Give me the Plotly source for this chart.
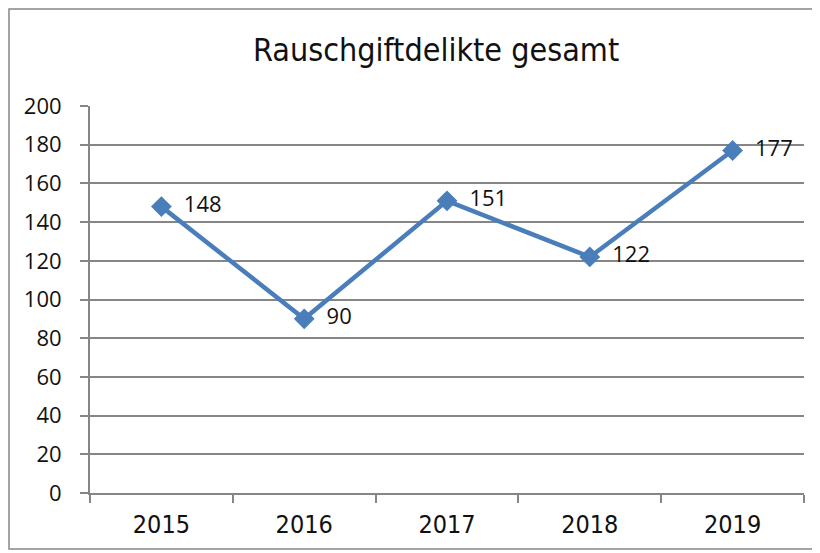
import plotly.graph_objects as go

years = ["2015", "2016", "2017", "2018", "2019"]
values = [148, 90, 151, 122, 177]
labels = ["148", "90", "151", "122", "177"]
title_text = "Rauschgiftdelikte gesamt"

OFF = 8  # page body margin
W, H = 820 - OFF, 553 - OFF
L, T = 90 - OFF, 106 - OFF
R = W - (804 - OFF)
B = H - (493 - OFF)
pw, ph = W - L - R, H - T - B

def fx(p):  # figure pixel -> paper x
    return (p - L) / pw

def fy(p):  # figure pixel -> paper y
    return (H - B - p) / ph

NARROW = "DejaVu Sans Condensed, Liberation Sans Narrow, sans-serif"
TICKF = "Open Sans, sans-serif"

fig = go.Figure()
fig.add_trace(go.Scatter(
    x=years, y=values, mode="lines+markers+text",
    line=dict(color="#4A7EBB", width=4.5),
    marker=dict(symbol="diamond", size=16, color="#4A7EBB"),
    text=["  " + t for t in labels], textposition="middle right",
    textfont=dict(family=TICKF, size=22, color="#111111"),
    cliponaxis=False, showlegend=False,
))

fig.update_layout(
    width=W, height=H,
    margin=dict(l=L, r=R, t=T, b=B, pad=0),
    paper_bgcolor="white", plot_bgcolor="white",
    font=dict(family=TICKF, color="#111111"),
    xaxis=dict(
        type="category", tickson="boundaries", ticks="outside", ticklen=8,
        tickcolor="#868686", tickwidth=1.5, showgrid=False,
        showline=True, linecolor="#868686", linewidth=2,
        tickfont=dict(family=NARROW, size=25, color="#111111"),
        ticklabelstandoff=8,
        range=[-0.5, 4.5], fixedrange=True,
    ),
    yaxis=dict(
        range=[0, 200], dtick=20, tick0=0, ticks="outside", ticklen=8,
        tickcolor="#868686", tickwidth=1.5,
        showgrid=True, gridcolor="#868686", gridwidth=1.5,
        showline=True, linecolor="#868686", linewidth=2,
        zeroline=False,
        tickfont=dict(family=TICKF, size=22, color="#111111"),
        ticklabelstandoff=14,
    ),
    shapes=[dict(type="rect", xref="paper", yref="paper",
                 x0=fx(1), x1=fx(808), y0=fy(541), y1=fy(1),
                 line=dict(color="#868686", width=1.5), layer="below")],
    annotations=[dict(text=title_text, xref="paper", yref="paper",
                      x=fx(428), y=fy(42), xanchor="center", yanchor="middle",
                      showarrow=False,
                      font=dict(family=NARROW, size=32, color="#111111"))],
)

fig.write_html("out.html")
